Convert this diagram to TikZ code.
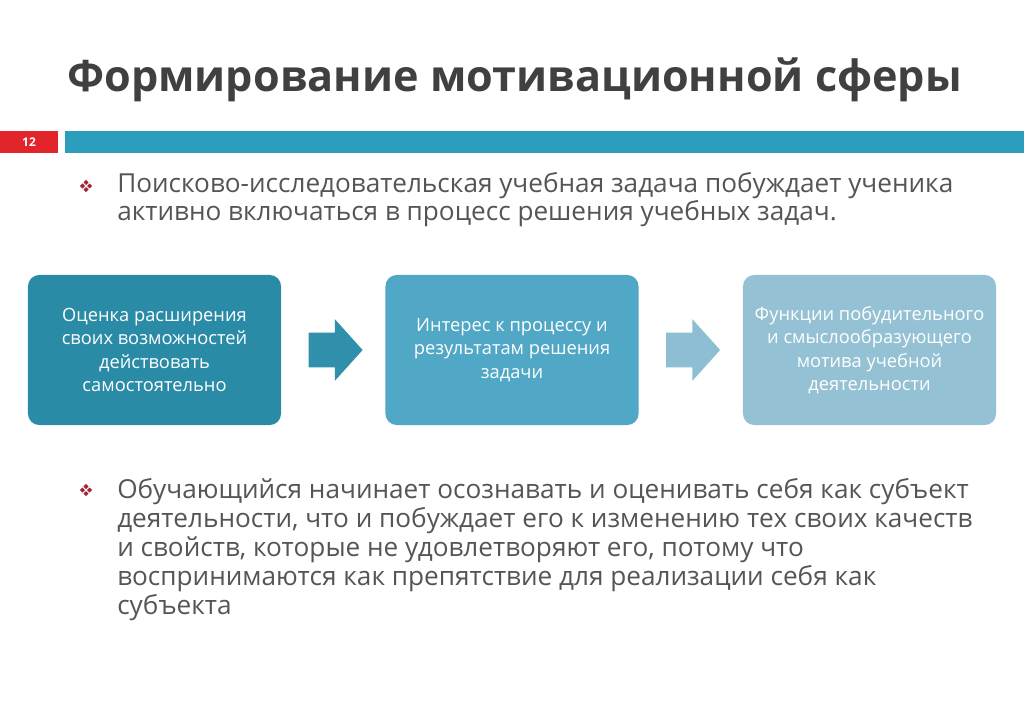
\documentclass[tikz,border=0pt]{standalone}
\usepackage{fontspec}
\setmainfont{Open Sans}
\usetikzlibrary{shapes.arrows,calc}
\definecolor{titlegray}{RGB}{64,64,64}
\definecolor{textgray}{RGB}{85,85,85}
\definecolor{barred}{RGB}{226,36,43}
\definecolor{barteal}{RGB}{42,158,188}
\definecolor{tealA}{RGB}{42,139,166}
\definecolor{tealB}{RGB}{80,167,198}
\definecolor{tealC}{RGB}{148,193,212}
\definecolor{bulletred}{RGB}{160,40,50}
\tikzset{
  stage/.style={fill=#1,rounded corners=8pt,minimum width=6.325cm,minimum height=3.75cm,
    text=white,align=center,font=\fontsize{13}{16.7}\selectfont},
  push/.style={single arrow,fill=#1,minimum height=1.35cm,anchor=tail,
    single arrow head extend=0.3375cm,single arrow tip angle=96,inner xsep=0pt,inner ysep=0.425cm},
  para/.style={anchor=base west,inner sep=0pt,align=left,text=textgray,
    font=\fontsize{18.6}{20.6}\selectfont},
}
\newcommand\diamonddots[1]{%
  \foreach \dx/\dy in {0/-3.6,0/3.6,-3.6/0,3.6/0}
    \fill[bulletred] ($(#1)+(\dx,\dy)$) +(0,-2.6)--+(2.6,0)--+(0,2.6)--+(-2.6,0)--cycle;}
\begin{document}
\begin{tikzpicture}[x=0.025cm,y=-0.025cm]
\useasboundingbox[fill=white](0,0) rectangle (1024,708);
% title and bars
\node[anchor=base west,inner sep=0pt,text=titlegray,font=\fontsize{30.7}{34}\selectfont\bfseries]
  (title) at (67,92) {Формирование мотивационной сферы};
\fill[barred](0,131) rectangle (58,153);
\fill[barteal](65,131) rectangle (1024,153);
\node[text=white,font=\fontsize{8.5}{9}\selectfont\bfseries] (pagenum) at (29,142) {12};
% first point (base = last line)
\coordinate (b1) at (86,186);
\diamonddots{b1}
\node[para] (p1) at (117,221) {Поисково-исследовательская учебная задача побуждает ученика\\
активно включаться в процесс решения учебных задач.};
% chain of boxes
\node[stage=tealA] (s1) at (154.5,350) {Оценка расширения\\своих возможностей\\действовать\\самостоятельно};
\node[stage=tealB] (s2) at (512,350) {Интерес к процессу и\\результатам решения\\задачи};
\node[stage=tealC] (s3) at (869.5,350) {Функции побудительного\\и смыслообразующего\\мотива учебной\\деятельности};
\node[push=tealA!85!tealB] (a1) at ($(s1.east)+(27,0)$) {};
\node[push=tealC!90!tealB] (a2) at ($(s2.east)+(27,0)$) {};
% second point
\coordinate (b2) at (86,490);
\diamonddots{b2}
\node[para] (p2) at (117,614) {Обучающийся начинает осознавать и оценивать себя как субъект\\
деятельности, что и побуждает его к изменению тех своих качеств\\
и свойств, которые не удовлетворяют его, потому что\\
воспринимаются как препятствие для реализации себя как\\
субъекта};
\end{tikzpicture}
\end{document}
